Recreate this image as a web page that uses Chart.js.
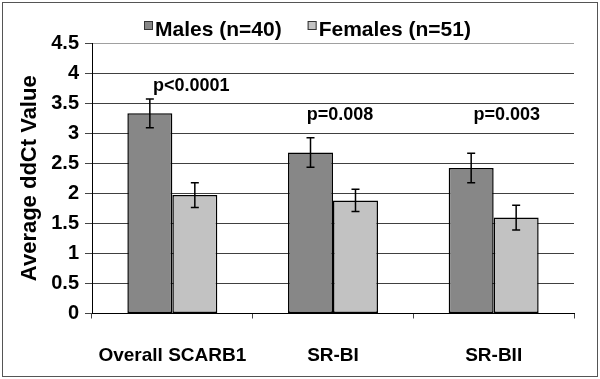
<!DOCTYPE html>
<html>
<head>
<meta charset="utf-8">
<script src="https://cdn.jsdelivr.net/npm/chart.js@4.4.1/dist/chart.umd.min.js"></script>
<style>
  html, body { margin: 0; padding: 0; background: #fff; }
  canvas { display: block; }
</style>
</head>
<body>
<canvas id="chart" width="600" height="379"></canvas>
<script>
// 데이터
const categories = ['Overall SCARB1', 'SR-BI', 'SR-BII'];
const seriesLabels = ['Males (n=40)', 'Females (n=51)'];
const malesMean = [3.33, 2.68, 2.42];
const malesErr = [0.24, 0.245, 0.245];
const femalesMean = [1.97, 1.88, 1.595];
const femalesErr = [0.205, 0.185, 0.205];
const pLabels = ['p<0.0001', 'p=0.008', 'p=0.003'];

const FONT = '"Liberation Sans", Arial, sans-serif';
const maleColor = '#878787';
const femaleColor = '#c2c2c2';

// 바깥 테두리 + 범례
const framePlugin = {
    id: 'frame',
    beforeDraw(chart) {
        const ctx = chart.ctx;
        ctx.save();
        ctx.fillStyle = '#fff';
        ctx.fillRect(0, 0, chart.width, chart.height);
        ctx.strokeStyle = '#555';
        ctx.lineWidth = 1;
        ctx.strokeRect(2.5, 2.5, chart.width - 5, chart.height - 5);
        ctx.restore();
    },
    afterDraw(chart) {
        const ctx = chart.ctx;
        ctx.save();
        ctx.font = 'bold 21px ' + FONT;
        ctx.textBaseline = 'middle';
        let x = 144;
        chart.data.datasets.forEach(ds => {
            ctx.fillStyle = ds.backgroundColor;
            ctx.fillRect(x, 21, 9, 9);
            ctx.strokeStyle = '#333';
            ctx.lineWidth = 1;
            ctx.strokeRect(x + 0.5, 21.5, 8, 8);
            ctx.fillStyle = '#000';
            ctx.fillText(ds.label, x + 11, 30);
            x += 11 + ctx.measureText(ds.label).width + 26;
        });
        ctx.restore();
    }
};

// 오차 막대 + p값
const errorBarPlugin = {
    id: 'errorBars',
    afterDatasetsDraw(chart, args, opts) {
        const ctx = chart.ctx;
        const yScale = chart.scales.y;
        const xScale = chart.scales.x;
        const errs = [malesErr, femalesErr];
        ctx.save();
        ctx.strokeStyle = '#000';
        ctx.lineWidth = 1.5;
        chart.data.datasets.forEach((ds, di) => {
            const meta = chart.getDatasetMeta(di);
            meta.data.forEach((bar, i) => {
                const v = ds.data[i];
                const top = yScale.getPixelForValue(v + errs[di][i]);
                const bot = yScale.getPixelForValue(v - errs[di][i]);
                ctx.beginPath();
                ctx.moveTo(bar.x, top);
                ctx.lineTo(bar.x, bot);
                ctx.moveTo(bar.x - 4, top);
                ctx.lineTo(bar.x + 4, top);
                ctx.moveTo(bar.x - 4, bot);
                ctx.lineTo(bar.x + 4, bot);
                ctx.stroke();
            });
        });
        ctx.font = 'bold 18px ' + FONT;
        ctx.fillStyle = '#000';
        ctx.textAlign = 'center';
        ctx.textBaseline = 'middle';
        pLabels.forEach((t, i) => {
            const x = xScale.getPixelForValue(i) + opts.dx[i];
            const y = yScale.getPixelForValue(opts.yv[i]);
            ctx.fillText(t, x, y);
        });
        ctx.restore();
    }
};

const chart = new Chart(document.getElementById('chart'), {
    type: 'bar',
    data: {
        labels: categories,
        datasets: [{
            label: seriesLabels[0],
            data: malesMean,
            backgroundColor: maleColor,
            borderColor: '#000',
            borderWidth: 1.5,
            borderSkipped: false
        }, {
            label: seriesLabels[1],
            data: femalesMean,
            backgroundColor: femaleColor,
            borderColor: '#000',
            borderWidth: 1.5,
            borderSkipped: false
        }]
    },
    options: {
        responsive: false,
        animation: false,
        devicePixelRatio: 1,
        categoryPercentage: 0.56,
        barPercentage: 1.0,
        layout: { padding: { left: 6, top: 43, right: 26, bottom: 0 } },
        plugins: {
            legend: { display: false },
            tooltip: { enabled: false },
            errorBars: { dx: [19, 7, 13], yv: [3.78, 3.3, 3.3] }
        },
        scales: {
            x: {
                grid: {
                    offset: true,
                    color: ctx => ctx.index === 3 ? '#a0a0a0' : 'rgba(0,0,0,0)',
                    tickColor: '#444',
                    tickLength: 5
                },
                border: { color: '#000', width: 1 },
                ticks: {
                    color: '#000',
                    font: { family: FONT, size: 19, weight: 'bold' },
                    padding: 26
                },
                afterFit: s => { s.height = 65.5; }
            },
            y: {
                min: 0,
                max: 4.5,
                ticks: {
                    stepSize: 0.5,
                    color: '#000',
                    font: { family: FONT, size: 20, weight: 'bold' },
                    padding: 6,
                    callback: v => String(v)
                },
                grid: {
                    color: ctx => ctx.tick && ctx.tick.value === 4.5 ? '#a0a0a0' : '#404040',
                    tickColor: '#444',
                    tickLength: 7
                },
                border: { color: '#000', width: 1 },
                title: {
                    display: true,
                    text: 'Average ddCt Value',
                    color: '#000',
                    font: { family: FONT, size: 22, weight: 'bold' },
                    padding: { top: 11, bottom: 0 }
                },
                afterFit: s => { s.width = 86; }
            }
        }
    },
    plugins: [framePlugin, errorBarPlugin]
});
</script>
</body>
</html>
